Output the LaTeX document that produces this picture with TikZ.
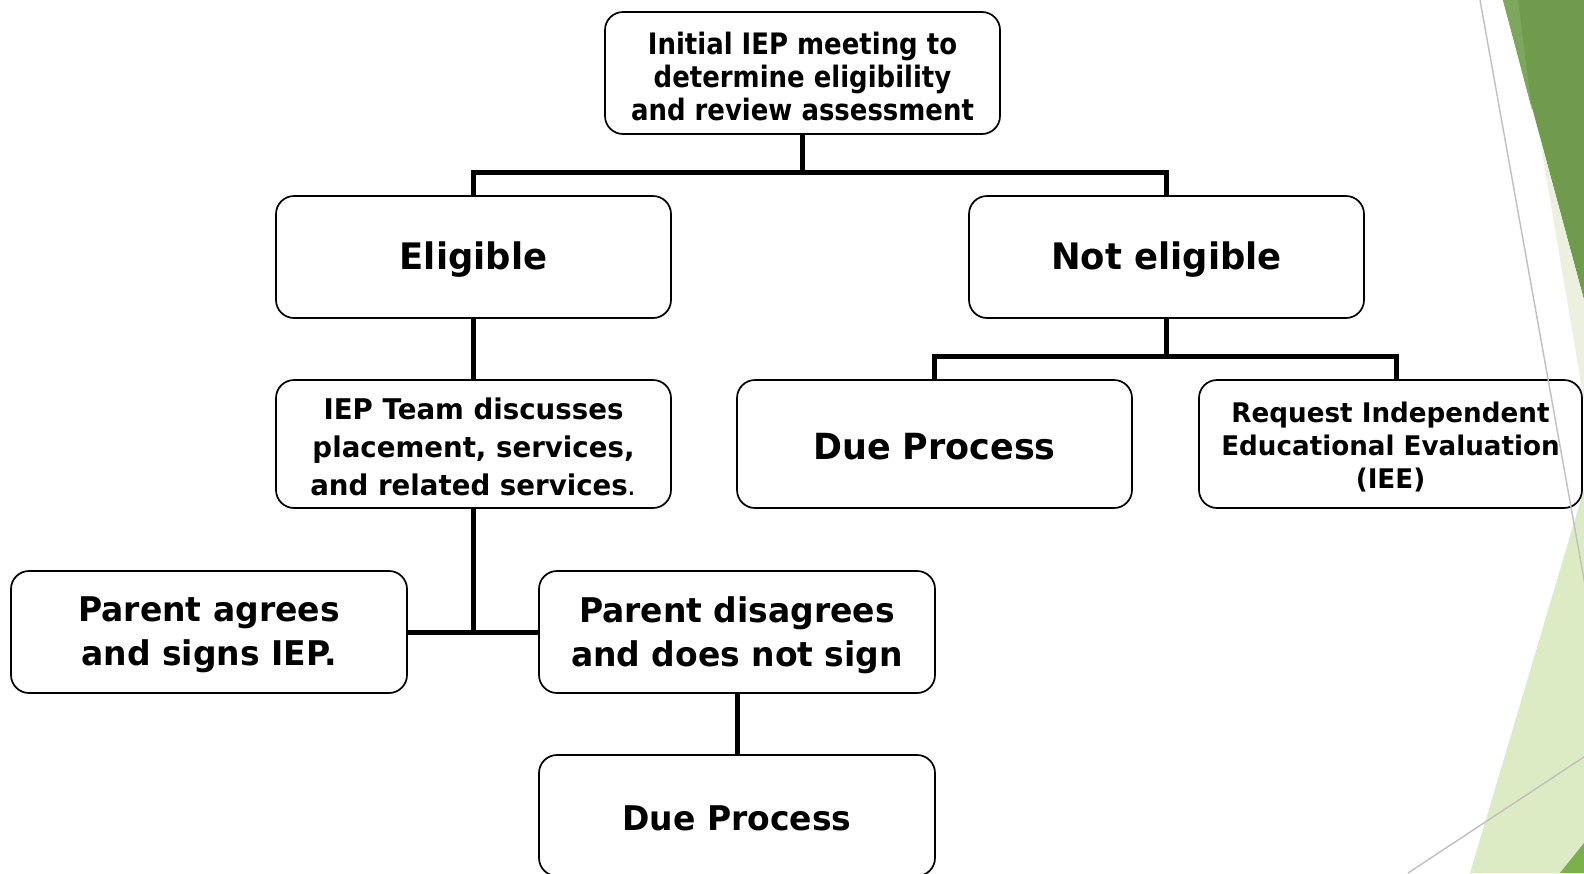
\documentclass[tikz,border=0pt]{standalone}
\usepackage{fontspec}
\setmainfont{DejaVu Sans}
\newfontfamily\fnarrow{DejaVu Sans}[FakeStretch=0.88]
\newfontfamily\fwide{DejaVu Sans}[FakeStretch=0.97]
\definecolor{dkgreen}{RGB}{112,155,77}
\definecolor{stripegreen}{RGB}{124,167,92}
\definecolor{palegreen}{RGB}{235,241,222}
\definecolor{ltgreen}{RGB}{221,235,197}
\definecolor{midgreen}{RGB}{122,178,74}
\definecolor{decogray}{RGB}{191,191,191}
\begin{document}
\begin{tikzpicture}[x=1pt,y=-1pt,
  box/.style={draw, line width=1.7pt, rounded corners=18pt, fill=white,
    inner sep=0pt, minimum width=395pt, minimum height=122pt},
  tall/.style={minimum height=128pt},
  txt/.style={align=center, inner sep=0pt},
  conn/.style={line width=5pt, line join=miter},
  deco/.style={draw=decogray, line width=1.4pt}]
\useasboundingbox (0,0) rectangle (1584,873);
\clip (0,0) rectangle (1584,873);
% decoration
\fill[dkgreen] (1503,0) -- (1600,0) -- (1600,300) -- (1584,300) -- cycle;
\fill[stripegreen] (1503,0) -- (1518,0) -- (1532,110) -- cycle;
\fill[palegreen] (1539,134) -- (1584,300) -- (1584,401) -- cycle;
\fill[ltgreen] (1584,489) -- (1470,873) -- (1584,873) -- cycle;
\fill[midgreen] (1560,873) -- (1584,843) -- (1584,873) -- cycle;
% boxes
\node[box] (top) at (802.5,73) {};
\node[box] (elig) at (473.5,257) {};
\node[box] (noel) at (1166.5,257) {};
\node[box, tall] (team) at (473.5,444) {};
\node[box, tall] (due1) at (934.5,444) {};
\node[box, tall, minimum width=383pt] (iee) at (1390.5,444) {};
\node[box, minimum width=396pt] (agree) at (209,632) {};
\node[box, minimum width=396pt] (dis) at (737,632) {};
\node[box, minimum width=396pt, minimum height=121pt] (due2) at (737,815.5) {};
% texts
\node[txt, font=\fnarrow\bfseries\fontsize{29.5}{33}\selectfont] (topT) at ([yshift=-3pt]top.center)
  {Initial IEP meeting to\\determine eligibility\\and review assessment};
\node[txt, font=\fwide\bfseries\fontsize{36.5}{40}\selectfont] (eligT) at ([yshift=-3pt]elig.center) {Eligible};
\node[txt, font=\fwide\bfseries\fontsize{36.5}{40}\selectfont] (noelT) at ([yshift=-3pt]noel.center) {Not eligible};
\node[txt, font=\fwide\bfseries\fontsize{28.5}{38}\selectfont] (teamT) at ([yshift=-3pt]team.center)
  {IEP Team discusses\\placement, services,\\and related services\textmd{.}};
\node[txt, font=\fwide\bfseries\fontsize{36}{40}\selectfont] (due1T) at ([yshift=-3pt]due1.center) {Due Process};
\node[txt, font=\fwide\bfseries\fontsize{27}{33}\selectfont] (ieeT) at ([yshift=-3pt]iee.center)
  {Request Independent\\Educational Evaluation\\(IEE)};
\node[txt, font=\fwide\bfseries\fontsize{34}{44}\selectfont] (agreeT) at ([yshift=-3pt]agree.center)
  {Parent agrees\\and signs IEP.};
\node[txt, font=\fwide\bfseries\fontsize{34}{44}\selectfont] (disT) at ([yshift=-3pt]dis.center)
  {Parent disagrees\\and does not sign};
\node[txt, font=\fwide\bfseries\fontsize{34}{40}\selectfont] (due2T) at ([yshift=-3pt]due2.center)
  {Due Process};
% connectors
\coordinate (j1) at (802.5,172);
\coordinate (j2) at (1166.5,356);
\draw[conn] (top.south) -- (j1);
\draw[conn] (elig.north) |- (j1) -| (noel.north);
\draw[conn] (elig.south) -- (team.north);
\draw[conn] (noel.south) -- (j2);
\draw[conn] (due1.north) |- (j2) -| ([xshift=6pt]iee.north);
\draw[conn] (agree.east) -- (dis.west);
\draw[conn] (team.south) -- (team.south |- agree.east);
\draw[conn] (dis.south) -- (due2.north);
% thin lines
\draw[deco] (1480,0) -- (1590,613);
\draw[deco] (1408,873) -- (1590,753);
\end{tikzpicture}
\end{document}
